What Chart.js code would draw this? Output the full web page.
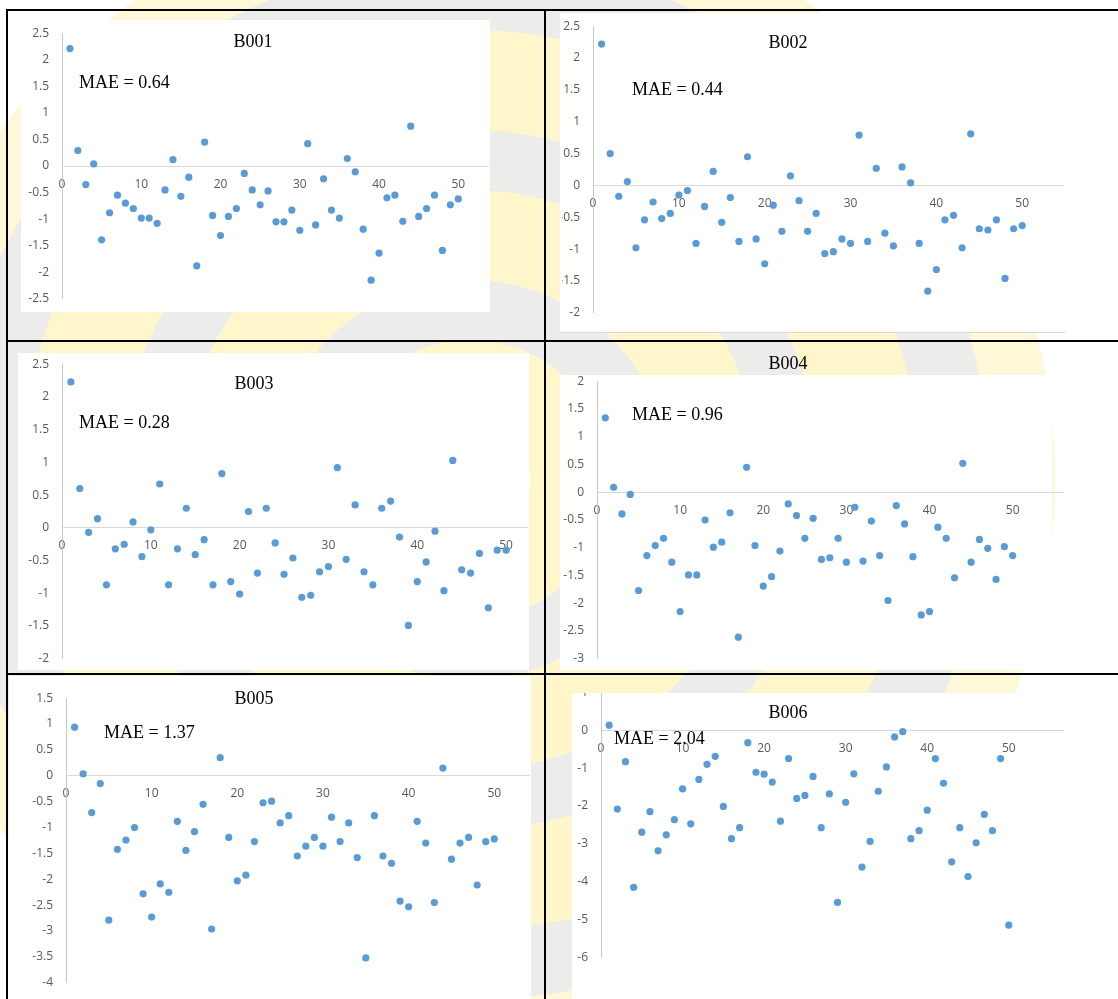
<!DOCTYPE html>
<html>
<head>
<meta charset="utf-8">
<script src="https://cdn.jsdelivr.net/npm/chart.js@4.4.1/dist/chart.umd.min.js"></script>
<style>
  html, body { margin: 0; padding: 0; }
  body {
    width: 1118px; height: 999px; position: relative; overflow: hidden;
    background: radial-gradient(circle at 470px 480px,
      #ffffff 0 60px, #fff6cc 60px 140px, #ececea 140px 200px, #fff6cc 200px 290px,
      #ececea 290px 350px, #fff6cc 350px 450px, #ececea 450px 520px, #fff8d8 520px 585px, #ffffff 585px);
  }
  .box { position: absolute; background: #fff; }
  .clip { position: absolute; overflow: hidden; }
  .clip canvas { position: absolute; }
  .rule { position: absolute; background: #000; }
  .txt {
    position: absolute; white-space: nowrap; line-height: 1;
    font-family: "Liberation Serif", "Times New Roman", serif; font-size: 18px; color: #000;
  }
</style>
</head>
<body>
<script>
// x positions of the 50 samples
const sampleNo = [1, 2, 3, 4, 5, 6, 7, 8, 9, 10, 11, 12, 13, 14, 15, 16, 17, 18, 19, 20,
  21, 22, 23, 24, 25, 26, 27, 28, 29, 30, 31, 32, 33, 34, 35, 36, 37, 38, 39, 40,
  41, 42, 43, 44, 45, 46, 47, 48, 49, 50];

const panelNames = ["B001", "B002", "B003", "B004", "B005", "B006"];
const maeLabels = ["MAE = 0.64", "MAE = 0.44", "MAE = 0.28", "MAE = 0.96", "MAE = 1.37", "MAE = 2.04"];

const errB001 = [2.21, 0.29, -0.35, 0.04, -1.39, -0.88, -0.55, -0.70, -0.80, -0.98,
  -0.98, -1.08, -0.45, 0.12, -0.57, -0.21, -1.88, 0.45, -0.93, -1.31,
  -0.95, -0.80, -0.14, -0.45, -0.73, -0.47, -1.05, -1.05, -0.83, -1.21,
  0.42, -1.11, -0.24, -0.83, -0.98, 0.14, -0.11, -1.19, -2.15, -1.64,
  -0.60, -0.55, -1.04, 0.75, -0.95, -0.80, -0.55, -1.59, -0.73, -0.62];
const errB002 = [2.22, 0.50, -0.17, 0.06, -0.98, -0.54, -0.26, -0.52, -0.44, -0.15,
  -0.08, -0.91, -0.33, 0.22, -0.58, -0.19, -0.88, 0.45, -0.84, -1.23,
  -0.31, -0.72, 0.15, -0.24, -0.72, -0.44, -1.07, -1.04, -0.84, -0.91,
  0.79, -0.88, 0.27, -0.75, -0.95, 0.29, 0.04, -0.91, -1.66, -1.32,
  -0.54, -0.47, -0.98, 0.81, -0.68, -0.70, -0.54, -1.46, -0.68, -0.63];
const errB003 = [2.23, 0.60, -0.07, 0.14, -0.87, -0.32, -0.25, 0.09, -0.44, -0.03,
  0.67, -0.87, -0.32, 0.30, -0.41, -0.18, -0.87, 0.83, -0.82, -1.01,
  0.25, -0.69, 0.30, -0.23, -0.71, -0.46, -1.06, -1.03, -0.67, -0.59,
  0.92, -0.48, 0.35, -0.67, -0.87, 0.30, 0.41, -0.14, -1.49, -0.82,
  -0.52, -0.05, -0.96, 1.03, -0.64, -0.69, -0.39, -1.22, -0.34, -0.34];
const errB004 = [1.34, 0.09, -0.39, -0.04, -1.77, -1.14, -0.96, -0.83, -1.26, -2.15,
  -1.49, -1.49, -0.50, -0.99, -0.90, -0.37, -2.61, 0.45, -0.96, -1.69,
  -1.52, -1.06, -0.21, -0.42, -0.83, -0.47, -1.21, -1.18, -0.83, -1.26,
  -0.27, -1.24, -0.52, -1.14, -1.95, -0.24, -0.57, -1.16, -2.21, -2.15,
  -0.63, -0.83, -1.54, 0.52, -1.26, -0.85, -1.01, -1.57, -0.98, -1.14];
const errB005 = [0.94, 0.04, -0.71, -0.15, -2.79, -1.42, -1.24, -1.00, -2.28, -2.73,
  -2.09, -2.25, -0.88, -1.44, -1.08, -0.55, -2.96, 0.35, -1.19, -2.03,
  -1.92, -1.27, -0.52, -0.49, -0.91, -0.77, -1.55, -1.36, -1.19, -1.36,
  -0.80, -1.27, -0.91, -1.58, -3.52, -0.77, -1.55, -1.69, -2.42, -2.53,
  -0.88, -1.30, -2.45, 0.15, -1.61, -1.30, -1.19, -2.11, -1.27, -1.22];
const errB006 = [0.13, -2.08, -0.83, -4.14, -2.69, -2.15, -3.18, -2.76, -2.36, -1.55,
  -2.47, -1.30, -0.90, -0.69, -2.01, -2.86, -2.57, -0.33, -1.11, -1.16,
  -1.37, -2.40, -0.75, -1.80, -1.72, -1.22, -2.57, -1.68, -4.54, -1.90,
  -1.15, -3.61, -2.93, -1.61, -0.97, -0.18, -0.04, -2.86, -2.65, -2.11,
  -0.75, -1.40, -3.47, -2.57, -3.86, -2.97, -2.22, -2.65, -0.75, -5.14];

const xTicks = [0, 10, 20, 30, 40, 50];
const yTicksB001 = [-2.5, -2, -1.5, -1, -0.5, 0, 0.5, 1, 1.5, 2, 2.5];
const yTicksB002 = [-2, -1.5, -1, -0.5, 0, 0.5, 1, 1.5, 2, 2.5];
const yTicksB003 = [-2, -1.5, -1, -0.5, 0, 0.5, 1, 1.5, 2, 2.5];
const yTicksB004 = [-3, -2.5, -2, -1.5, -1, -0.5, 0, 0.5, 1, 1.5, 2];
const yTicksB005 = [-4, -3.5, -3, -2.5, -2, -1.5, -1, -0.5, 0, 0.5, 1, 1.5];
const yTicksB006 = [-6, -5, -4, -3, -2, -1, 0, 1];

const seriesList = [errB001, errB002, errB003, errB004, errB005, errB006];
const yTickList = [yTicksB001, yTicksB002, yTicksB003, yTicksB004, yTicksB005, yTicksB006];

// page geometry of every panel: plot area (L,T,R,B), x max, white sheet, clip window, text spots
const panels = [
  { L: 62, T: 33, R: 490, B: 299, xMax: 53.8, sheet: [21, 20, 469, 292], clip: [0, 0, 545, 341], title: [253, 41], mae: [79, 82] },
  { L: 593, T: 26, R: 1065, B: 313, xMax: 54.8, sheet: [560, 13, 505, 319], clip: [562, 0, 556, 341], title: [788, 42], mae: [632, 89] },
  { L: 62, T: 364, R: 529, B: 659, xMax: 52.4, sheet: [18, 353, 511, 317], clip: [0, 341, 545, 333], title: [254, 383], mae: [79, 422] },
  { L: 597, T: 381, R: 1065, B: 659, xMax: 56.1, sheet: [560, 375, 492, 295], clip: [546, 341, 572, 333], title: [788, 363], mae: [632, 414] },
  { L: 66, T: 698, R: 531, B: 983, xMax: 54.1, sheet: [9, 676, 522, 323], clip: [0, 675, 545, 324], title: [254, 698], mae: [104, 732] },
  { L: 601, T: 692, R: 1065, B: 958, xMax: 56.7, sheet: [572, 693, 546, 306], clip: [546, 693, 572, 306], title: [788, 712], mae: [614, 738] }
];

const YAXIS_W = 60, PAD = 20;
const tickFont = { family: "Open Sans", size: 12 };

function addDiv(cls, x, y, w, h) {
  const d = document.createElement("div");
  d.className = cls;
  d.style.left = x + "px"; d.style.top = y + "px";
  if (w !== undefined) { d.style.width = w + "px"; d.style.height = h + "px"; }
  document.body.appendChild(d);
  return d;
}

// white chart sheets
panels.forEach(p => addDiv("box", p.sheet[0], p.sheet[1], p.sheet[2], p.sheet[3]));
// thin grey frame under B002
const b2 = addDiv("box", 560, 332, 505, 1);
b2.style.background = "#d9d9d9";

panels.forEach((p, k) => {
  const clip = addDiv("clip", p.clip[0], p.clip[1], p.clip[2], p.clip[3]);
  const cv = document.createElement("canvas");
  const cw = p.R - p.L + YAXIS_W + 2, ch = p.B - p.T + 2 * PAD;
  cv.width = cw; cv.height = ch;
  cv.style.width = cw + "px"; cv.style.height = ch + "px";
  cv.style.left = (p.L - YAXIS_W - p.clip[0]) + "px";
  cv.style.top = (p.T - PAD - p.clip[1]) + "px";
  clip.appendChild(cv);

  const yTicks = yTickList[k];
  const pts = seriesList[k].map((v, i) => ({ x: sampleNo[i], y: v }));

  new Chart(cv.getContext("2d"), {
    type: "scatter",
    data: {
      datasets: [{
        label: panelNames[k],
        data: pts,
        pointRadius: 3.6,
        pointHoverRadius: 3.6,
        pointBackgroundColor: "#5b9bd5",
        pointBorderWidth: 0,
        clip: false
      }]
    },
    options: {
      responsive: false,
      devicePixelRatio: 1,
      animation: false,
      events: [],
      layout: { padding: { left: 0, top: PAD, right: 2, bottom: PAD } },
      plugins: { legend: { display: false }, tooltip: { enabled: false }, title: { display: false } },
      scales: {
        x: {
          type: "linear",
          position: { y: 0 },
          min: 0,
          max: p.xMax,
          grid: { display: false, drawTicks: false },
          border: { display: true, color: "#d9d9d9", width: 1 },
          ticks: { color: "#595959", font: tickFont, padding: 11, maxRotation: 0,
                   callback: v => String(v) },
          afterBuildTicks: s => { s.ticks = xTicks.map(v => ({ value: v })); }
        },
        y: {
          type: "linear",
          position: "left",
          min: yTicks[0],
          max: yTicks[yTicks.length - 1],
          grid: { display: false, drawTicks: false },
          border: { display: true, color: "#c8c8c8", width: 1 },
          ticks: { color: "#595959", font: tickFont, padding: 13,
                   callback: v => String(v) },
          afterBuildTicks: s => { s.ticks = yTicks.map(v => ({ value: v })); },
          afterFit: s => { s.width = YAXIS_W; }
        }
      }
    }
  });

  const t = addDiv("txt", p.title[0], p.title[1]);
  t.textContent = panelNames[k];
  t.style.transform = "translate(-50%, -50%)";
  const m = addDiv("txt", p.mae[0], p.mae[1]);
  m.textContent = maeLabels[k];
  m.style.transform = "translate(0, -50%)";
});

// black table rules
addDiv("rule", 6, 9, 1112, 2);
addDiv("rule", 6, 9, 2, 990);
addDiv("rule", 544, 9, 2, 990);
addDiv("rule", 6, 340, 1112, 2);
addDiv("rule", 6, 673, 1112, 2);
</script>
</body>
</html>
